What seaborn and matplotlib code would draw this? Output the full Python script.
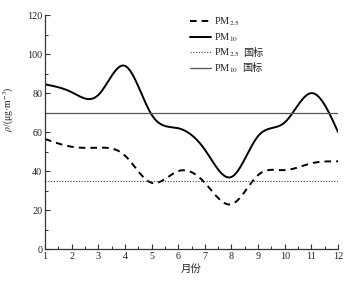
import numpy as np
import pandas as pd
import seaborn as sns
import matplotlib
matplotlib.use("Agg")
from matplotlib import pyplot as plt
from matplotlib.offsetbox import TextArea

# 数据
months = [1, 2, 3, 4, 5, 6, 7, 8, 9, 10, 11, 12]
pm25 = [56.5, 52.5, 52, 48, 34, 40, 34, 23, 38, 40.5, 44, 45]
pm10 = [84.5, 80.5, 79, 94, 69, 62, 51, 37, 58, 65, 80, 60]
pm25_std = 35
pm10_std = 70
xticks = list(range(1, 13))
labels = ['PM$_{2.5}$', 'PM$_{10}$', 'PM$_{2.5}$', 'PM$_{10}$']
suffix = ['', '', '国标', '国标']


def smooth(x, y, num=300):
    # 自然三次样条, 只用于画平滑曲线
    x = np.asarray(x, float)
    y = np.asarray(y, float)
    n = len(x)
    h = np.diff(x)
    A = np.zeros((n, n))
    b = np.zeros(n)
    A[0, 0] = 1
    A[-1, -1] = 1
    for i in range(1, n - 1):
        A[i, i - 1] = h[i - 1]
        A[i, i] = 2 * (h[i - 1] + h[i])
        A[i, i + 1] = h[i]
        b[i] = 6 * ((y[i + 1] - y[i]) / h[i] - (y[i] - y[i - 1]) / h[i - 1])
    M = np.linalg.solve(A, b)
    xs = np.linspace(x[0], x[-1], num)
    idx = np.clip(np.searchsorted(x, xs) - 1, 0, n - 2)
    x0, x1 = x[idx], x[idx + 1]
    hh = x1 - x0
    ys = (M[idx] * (x1 - xs) ** 3 / (6 * hh) + M[idx + 1] * (xs - x0) ** 3 / (6 * hh)
          + (y[idx] - M[idx] * hh ** 2 / 6) * (x1 - xs) / hh
          + (y[idx + 1] - M[idx + 1] * hh ** 2 / 6) * (xs - x0) / hh)
    return xs, ys


sns.set_theme(style="ticks")
plt.rcParams['font.family'] = ['Liberation Serif', 'Noto Sans CJK SC']
plt.rcParams['mathtext.fontset'] = 'stix'
plt.rcParams['axes.unicode_minus'] = False

fig = plt.figure(figsize=(3.54, 2.91), dpi=100)
ax = fig.add_axes([0.127, 0.144, 0.828, 0.804])

xs, ys = smooth(months, pm25)
sns.lineplot(x=xs, y=ys, ax=ax, color='black', lw=1.4, linestyle=(0, (3.4, 2.6)), label=labels[0])
xs, ys = smooth(months, pm10)
sns.lineplot(x=xs, y=ys, ax=ax, color='black', lw=1.4, label=labels[1])
sns.lineplot(x=[months[0], months[-1]], y=[pm25_std, pm25_std], ax=ax, color='#444444', lw=0.8,
             linestyle=(0, (1, 1.5)), label=labels[2])
sns.lineplot(x=[months[0], months[-1]], y=[pm10_std, pm10_std], ax=ax, color='#555555', lw=0.9,
             label=labels[3])

ax.set_xlim(1, 12)
ax.set_ylim(0, 120)
ax.set_xticks(xticks)
ax.set_xticks(np.arange(1.5, 12, 1), minor=True)
ax.set_yticks(range(0, 121, 20))
ax.set_yticks(range(10, 120, 20), minor=True)
ax.tick_params(which='major', direction='in', length=3.5, width=0.8, labelsize=7.3, pad=2,
               color='#333333', labelcolor='#222222')
ax.tick_params(which='minor', direction='in', length=2, width=0.7, color='#333333')
for s in ['top', 'right']:
    ax.spines[s].set_visible(False)
for s in ['left', 'bottom']:
    ax.spines[s].set_linewidth(0.9)
    ax.spines[s].set_color('#333333')

ax.set_xlabel('月份', fontsize=7.5, labelpad=2)
ax.set_ylabel(r'$\rho$/(μg·m$^{-3}$)', fontsize=7)
ax.yaxis.set_label_coords(-0.098, 0.60)

leg = ax.legend(loc='upper left', bbox_to_anchor=(0.475, 1.025), frameon=False, fontsize=7.5,
                handlelength=2.0, handletextpad=0.3, labelspacing=0.3, borderaxespad=0.2)
# 国标 两字在 mathtext 里没有字形, 另加一个文本块
rows = leg._legend_handle_box.get_children()[0].get_children()
for row, s in zip(rows, suffix):
    if s:
        ta = TextArea(s, textprops=dict(family=['Noto Sans CJK SC'], fontsize=7.3, color='#222222'))
        ta.set_figure(fig)
        row.get_children().append(ta)

fig.savefig('out.png', dpi=100)
